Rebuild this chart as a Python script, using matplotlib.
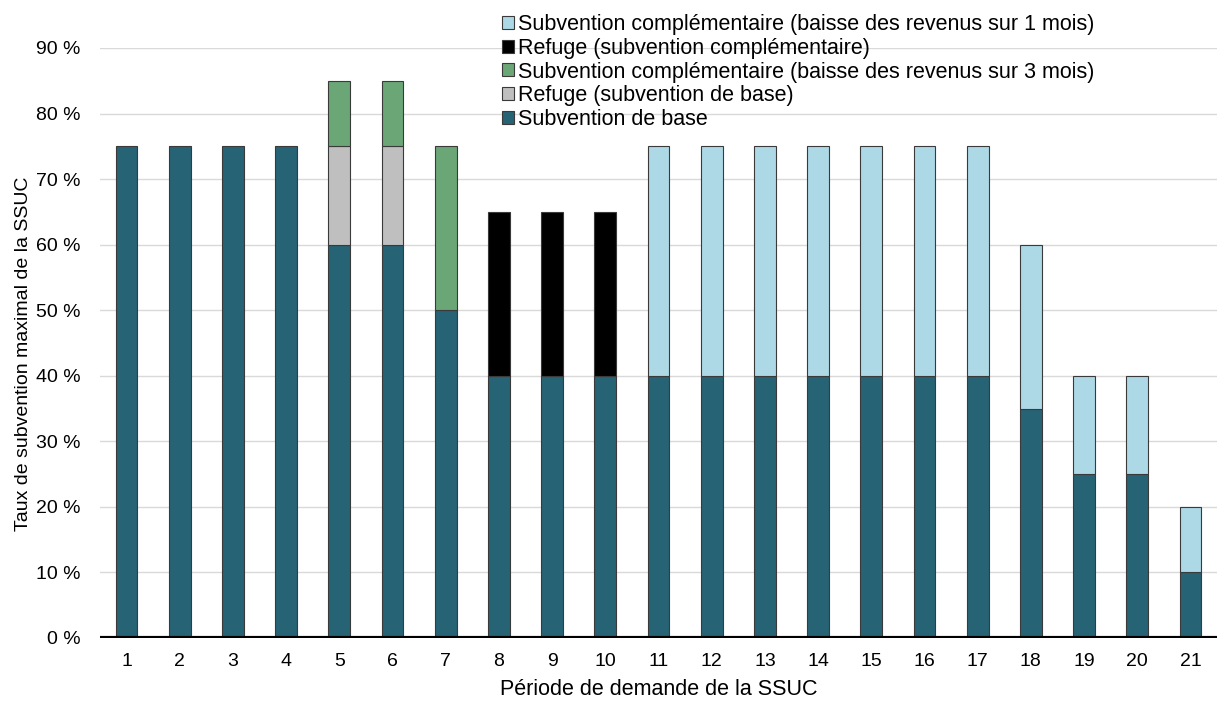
import matplotlib
matplotlib.use("Agg")
import matplotlib.pyplot as plt
import numpy as np

plt.rcParams['font.family'] = ['Liberation Sans', 'DejaVu Sans']

periods = [str(i) for i in range(1, 22)]
base = [75, 75, 75, 75, 60, 60, 50, 40, 40, 40, 40, 40, 40, 40, 40, 40, 40, 35, 25, 25, 10]
refuge_base = [0, 0, 0, 0, 15, 15, 0, 0, 0, 0, 0, 0, 0, 0, 0, 0, 0, 0, 0, 0, 0]
comp_3m = [0, 0, 0, 0, 10, 10, 25, 0, 0, 0, 0, 0, 0, 0, 0, 0, 0, 0, 0, 0, 0]
refuge_comp = [0, 0, 0, 0, 0, 0, 0, 25, 25, 25, 0, 0, 0, 0, 0, 0, 0, 0, 0, 0, 0]
comp_1m = [0, 0, 0, 0, 0, 0, 0, 0, 0, 0, 35, 35, 35, 35, 35, 35, 35, 25, 15, 15, 10]

series = [
    ("Subvention de base", base, "#266475"),
    ("Refuge (subvention de base)", refuge_base, "#bfbfbf"),
    ("Subvention complémentaire (baisse des revenus sur 3 mois)", comp_3m, "#6aa676"),
    ("Refuge (subvention complémentaire)", refuge_comp, "#000000"),
    ("Subvention complémentaire (baisse des revenus sur 1 mois)", comp_1m, "#add8e6"),
]
yticks = list(range(0, 100, 10))
ytick_labels = [f"{v} %" for v in yticks]

fig = plt.figure(figsize=(12.17, 7.09), dpi=100)
ax = fig.add_axes([100/1217, 71/709, 1117/1217, 590/709])

x = np.arange(1, len(periods) + 1)
bottom = np.zeros(len(periods))
handles = []
for label, vals, color in series:
    v = np.array(vals, dtype=float)
    mask = v > 0
    b = ax.bar(x[mask], v[mask], bottom=bottom[mask], width=0.41, color=color,
               edgecolor="#3a3a3a", linewidth=0.8, label=label, zorder=3)
    handles.append(b)
    bottom += v

ax.set_xlim(0.5, len(periods) + 0.5)
ax.set_ylim(0, 90)
ax.set_yticks(yticks)
ax.set_yticklabels(ytick_labels)
ax.set_xticks(x)
ax.set_xticklabels(periods)
ax.tick_params(axis='both', length=0, labelsize=14)
ax.tick_params(axis='x', pad=11)
ax.tick_params(axis='y', pad=14)
ax.grid(axis='y', color="#d9d9d9", linewidth=1, zorder=0)
for s in ax.spines.values():
    s.set_visible(False)
ax.axhline(0, color="black", linewidth=3, zorder=4)

ax.set_xlabel("Période de demande de la SSUC", fontsize=15.5, labelpad=6)
ax.set_ylabel("Taux de subvention maximal de la SSUC", fontsize=14)
ax.yaxis.set_label_coords(-0.061, 0.481)

leg = ax.legend(handles[::-1], [s[0] for s in series][::-1],
                loc="upper left", bbox_to_anchor=(402/1117, 1 + 34/590),
                frameon=False, fontsize=15.5, handlelength=0.55, handleheight=0.55,
                handletextpad=0.2, labelspacing=0.13, borderaxespad=0, borderpad=0)

fig.savefig("out.png", dpi=100)
